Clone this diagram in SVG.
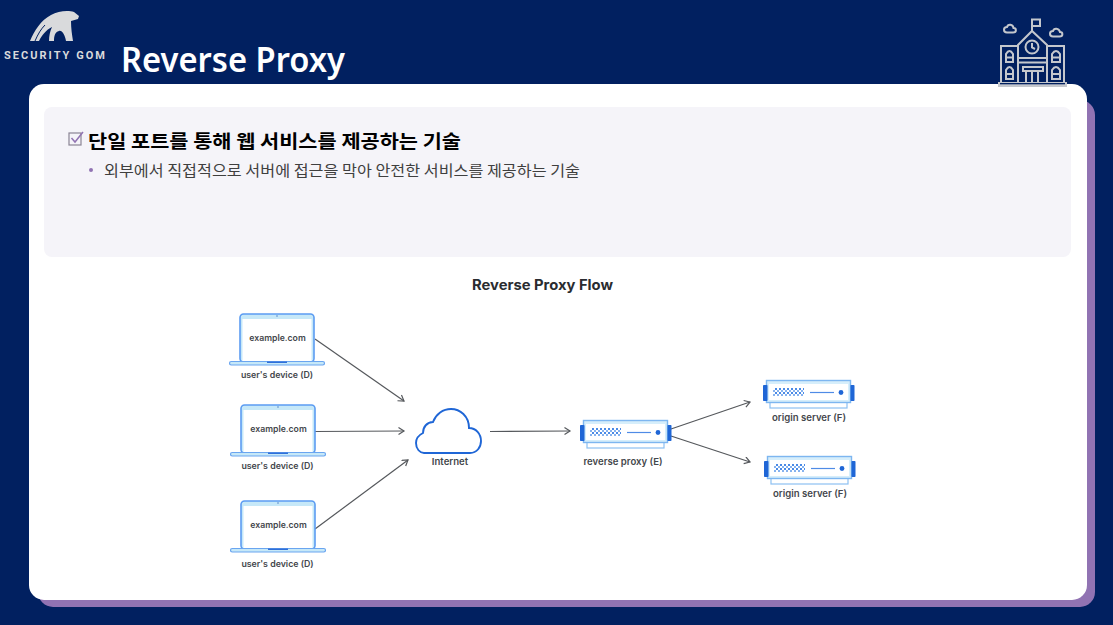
<svg xmlns="http://www.w3.org/2000/svg" width="1113" height="625" viewBox="0 0 1113 625">
<style>
.lbl{font-family:"Inter","Liberation Sans",sans-serif;font-size:8.800px;font-weight:600;fill:#44474c;text-anchor:middle}
.wide{font-size:9.600px}
.url{font-size:8.700px}
.ko{font-family:"Noto Sans CJK KR",sans-serif}
.conn{fill:none;stroke:#55585c;stroke-width:1.200}
.ic{fill:none;stroke:#c4c7cd;stroke-width:2}
</style>
<defs>
<marker id="arrow" markerWidth="10" markerHeight="10" refX="7" refY="4" orient="auto" markerUnits="userSpaceOnUse"><path d="M1.500 0.500L7 4L1.500 7.500" fill="none" stroke="#55585c" stroke-width="1.200"/></marker>
<pattern id="dots" width="4" height="4" patternUnits="userSpaceOnUse"><rect width="2" height="2" fill="#4a8ae6"/><rect x="2" y="2" width="2" height="2" fill="#86b2ef"/></pattern>
<g id="laptop">
<rect x="240" y="314" width="74" height="48" rx="3.500" fill="#c6e8f8" stroke="#5c9cf2" stroke-width="1.600"/>
<rect x="242.500" y="319" width="69" height="42.500" fill="#fff"/>
<rect x="229.500" y="361.500" width="95" height="3.500" rx="1.700" fill="#c6e8f8" stroke="#6aa5f0" stroke-width="1.200"/>
<rect x="267" y="361.500" width="20" height="1.500" fill="#2f6fd8"/>
<circle cx="277" cy="316" r="0.700" fill="#3f6fc0"/>
</g>
<g id="server">
<rect x="587" y="441" width="77" height="7" fill="#fff" stroke="#8cc0f2" stroke-width="1.200"/>
<rect x="583.500" y="420.500" width="84" height="22" fill="#d6eefb" stroke="#7db6f0" stroke-width="1.400"/>
<rect x="586" y="424" width="79" height="16" fill="#fff"/>
<rect x="580" y="425" width="4.500" height="16" rx="0.800" fill="#1f66d6"/>
<rect x="667.500" y="425" width="4" height="16" rx="0.800" fill="#1f66d6"/>
<rect x="590" y="428" width="31" height="8" fill="url(#dots)"/>
<path d="M627 432.500H651" stroke="#4f8be6" stroke-width="1.200"/>
<circle cx="658" cy="432.500" r="2.400" fill="#1f66d6"/>
</g>
</defs>
<rect id="background" width="1113" height="625" fill="#012060"/>
<g id="cards">
<rect x="38" y="100" width="1057" height="507" rx="15" fill="#9173b3"/>
<rect x="29" y="84" width="1058" height="516" rx="15" fill="#fff"/>
<rect x="44" y="107" width="1027" height="150" rx="8" fill="#f5f4f9"/>
</g>
<g id="logo">
<path d="M30 41C34 31 41 20 51 15C58 11 68 10 74 12L79 16L78 19L71 21C71 28 72 35 73 41H66C65 35 62 30 59 31C55 32 54 36 54 41H49C49 36 50 31 52 27C46 30 42 35 39 41Z" fill="#d9dadc"/>
<path d="M35 41C38 34 41 29 45 25" fill="none" stroke="#012060" stroke-width="1"/>
<text x="4" y="59" font-family="'Liberation Sans Narrow','Roboto','Liberation Sans',sans-serif" font-size="11" font-weight="700" fill="#d9dadc" textLength="101" lengthAdjust="spacing">SECURITY GOM</text>
</g>
<text id="title" x="121" y="72" font-family="'Noto Sans','Open Sans',sans-serif" font-size="35" font-weight="600" fill="#fff" textLength="224" lengthAdjust="spacingAndGlyphs">Reverse Proxy</text>
<g id="school-icon">
<path class="ic" d="M1017 46H1001V82M1048 46H1064V82"/>
<path class="ic" d="M1018 82V45L1032 31L1047 45V82M1018 58H1047M1018 62.500H1047"/>
<path class="ic" d="M1032 32V19.500H1040V26H1032"/>
<circle class="ic" cx="1032" cy="47" r="6.500"/>
<path class="ic" stroke-width="1.500" d="M1032 43V47.500L1035 49"/>
<path class="ic" d="M1023 67H1043V71H1023ZM1026 71V82M1032 71V82M1038 71V82"/>
<path class="ic" d="M1006 62V54Q1009.500 48 1013 54V62ZM1006 57.500H1013M1006 79V70Q1009.500 64 1013 70V79ZM1006 74H1013M1052 62V54Q1056 48 1060 54V62ZM1052 57.500H1060M1052 79V70Q1056 64 1060 70V79ZM1052 74H1060"/>
<path class="ic" d="M1007 32.500H1013C1017 32.500 1016.500 28 1013.500 28C1013 24 1008 23.500 1007 27C1003 27 1003 32.500 1007 32.500ZM1053 36.500H1059.500C1063.500 36.500 1063 32 1060 32C1059 28 1054 27.500 1053 31C1049 31 1049 36.500 1053 36.500Z"/>
<rect x="998" y="82" width="69" height="5" fill="#c4c7cd"/>
<rect x="1000" y="83" width="65" height="1.300" fill="#012060"/>
</g>
<g id="heading">
<rect x="69" y="133" width="12" height="12" fill="none" stroke="#8a8494" stroke-width="1.200"/>
<path d="M71.500 138L75 142L83 132" fill="none" stroke="#9173b3" stroke-width="1.500"/>
<text class="ko" x="88" y="148" font-size="18.500" font-weight="700" fill="#000" textLength="373" lengthAdjust="spacingAndGlyphs">단일 포트를 통해 웹 서비스를 제공하는 기술</text>
<circle cx="91" cy="170" r="2" fill="#9173b3"/>
<text class="ko" x="104" y="176" font-size="14.500" font-weight="400" fill="#3f3f3f" textLength="476" lengthAdjust="spacingAndGlyphs">외부에서 직접적으로 서버에 접근을 막아 안전한 서비스를 제공하는 기술</text>
</g>
<text id="diagram-title" x="542.500" y="290" font-family="Inter,'Liberation Sans',sans-serif" font-size="14" font-weight="700" fill="#2a2c30" text-anchor="middle" textLength="141" lengthAdjust="spacingAndGlyphs">Reverse Proxy Flow</text>
<g id="connectors">
<path class="conn" marker-end="url(#arrow)" d="M315 339L404 401"/>
<path class="conn" marker-end="url(#arrow)" d="M315 431.500L404 431"/>
<path class="conn" marker-end="url(#arrow)" d="M315 529L408 460"/>
<path class="conn" marker-end="url(#arrow)" d="M490 431.500L570 431"/>
<path class="conn" marker-end="url(#arrow)" d="M671 429L750 402"/>
<path class="conn" marker-end="url(#arrow)" d="M671 436L750 462"/>
</g>
<g id="device-1"><use href="#laptop"/><text class="lbl url" x="277.500" y="341">example.com</text><text class="lbl" x="277" y="378">user's device (D)</text></g>
<g id="device-2"><use href="#laptop" x="1" y="91"/><text class="lbl url" x="278.500" y="432">example.com</text><text class="lbl" x="277.500" y="469">user's device (D)</text></g>
<g id="device-3"><use href="#laptop" x="1" y="187"/><text class="lbl url" x="278.500" y="528">example.com</text><text class="lbl" x="277.500" y="567">user's device (D)</text></g>
<g id="internet">
<path d="M424 453H470C477 453 481 447 481 441C481 434 476 428 469 428C469 416 460 409 451 409C443 409 436 414 433 422C427 422 423 427 423 433C419 435 416 439 416 443C416 449 420 453 424 453Z" fill="#fff" stroke="#1f66d6" stroke-width="1.900"/>
<text class="lbl wide" x="450" y="465">Internet</text>
</g>
<g id="reverse-proxy"><use href="#server"/><text class="lbl wide" x="623" y="465">reverse proxy (E)</text></g>
<g id="origin-1"><use href="#server" x="183" y="-40"/><text class="lbl wide" x="809" y="421">origin server (F)</text></g>
<g id="origin-2"><use href="#server" x="184" y="36"/><text class="lbl wide" x="810" y="497">origin server (F)</text></g>
</svg>
